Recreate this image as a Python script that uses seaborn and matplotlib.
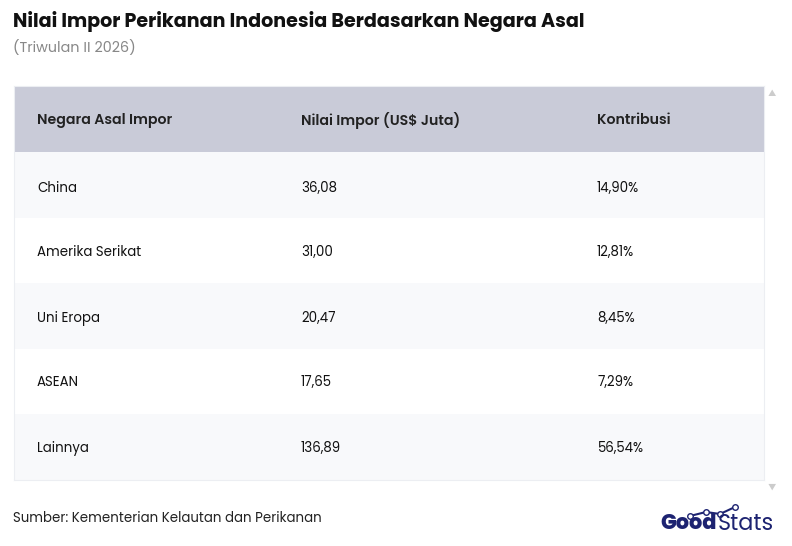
import matplotlib
matplotlib.use("Agg")
import matplotlib.pyplot as plt
import seaborn as sns
import numpy as np
from matplotlib.colors import ListedColormap

sns.set_theme(style="white")
plt.rcParams['font.family'] = ['Poppins', 'Inter', 'DejaVu Sans']

headers = ["Negara Asal Impor", "Nilai Impor (US$ Juta)", "Kontribusi"]
countries = ["China", "Amerika Serikat", "Uni Eropa", "ASEAN", "Lainnya"]
values = ["36,08", "31,00", "20,47", "17,65", "136,89"]
shares = ["14,90%", "12,81%", "8,45%", "7,29%", "56,54%"]

W, H = 792, 546
fig = plt.figure(figsize=(W/100, H/100), dpi=100)
fig.patch.set_facecolor("white")

def fx(px): return px / W
def fy(py): return 1 - py / H

fig.text(fx(13), fy(21), "Nilai Impor Perikanan Indonesia Berdasarkan Negara Asal",
         fontsize=13.8, fontweight="bold", color="#111111", va="center", ha="left")
fig.text(fx(13), fy(48), "(Triwulan II 2026)", fontsize=10.3, color="#888888", va="center", ha="left")

left, right, top, bottom = 14, 764, 86, 480
ax = fig.add_axes([fx(left), fy(bottom), (right - left) / W, (bottom - top) / H])
row_px = [66] + [(bottom - top - 66) / 5] * 5
shade = []
codes = [2, 1, 0, 1, 0, 1]
acc = 0.0
for c, h in zip(codes, row_px):
    start = int(round(acc)); acc += h; end = int(round(acc))
    shade += [c] * (end - start)
mat = np.array(shade).reshape(-1, 1)
cmap = ListedColormap(["#ffffff", "#f8f9fb", "#c9cbd8"])
sns.heatmap(mat, ax=ax, cmap=cmap, vmin=-0.5, vmax=2.5, cbar=False,
            xticklabels=False, yticklabels=False)
for s in ax.spines.values():
    s.set_visible(True)
    s.set_color("#eceef2")
    s.set_linewidth(0.8)

col_x = [37, 301, 597]
def axx(px): return (px - left) / (right - left)
for x, t in zip(col_x, headers):
    ax.text(axx(x), 120 - top, t, fontsize=10.2, fontweight="semibold",
            color="#222222", va="center", ha="left")
ys = [188, 253, 318, 383, 448]
for y, a, b, c in zip(ys, countries, values, shares):
    for x, t in zip(col_x, [a, b, c]):
        ax.text(axx(x), y - top, t, fontsize=9.6, color="#111111", va="center", ha="left")

fig.text(fx(772), fy(93), "▲", fontsize=6, color="#cccccc", ha="center", va="center")
fig.text(fx(772), fy(487), "▼", fontsize=6, color="#cccccc", ha="center", va="center")

fig.text(fx(13), fy(519), "Sumber: Kementerian Kelautan dan Perikanan", fontsize=9.6,
         color="#222222", va="center", ha="left")

fig.text(fx(717), fy(524), "Good", fontsize=15, fontweight="heavy", color="#1d2371", va="center", ha="right")
fig.text(fx(718), fy(524), "Stats", fontsize=16, color="#1d2371", va="center", ha="left")
lx = [fx(690), fx(706), fx(720), fx(735)]
ly = [fy(516), fy(512), fy(514), fy(507)]
fig.lines.append(plt.Line2D(lx, ly, transform=fig.transFigure, color="#1d2371",
                            lw=1.5, marker="o", markersize=4, markerfacecolor="white"))

fig.savefig("out.png", dpi=100, facecolor="white")
